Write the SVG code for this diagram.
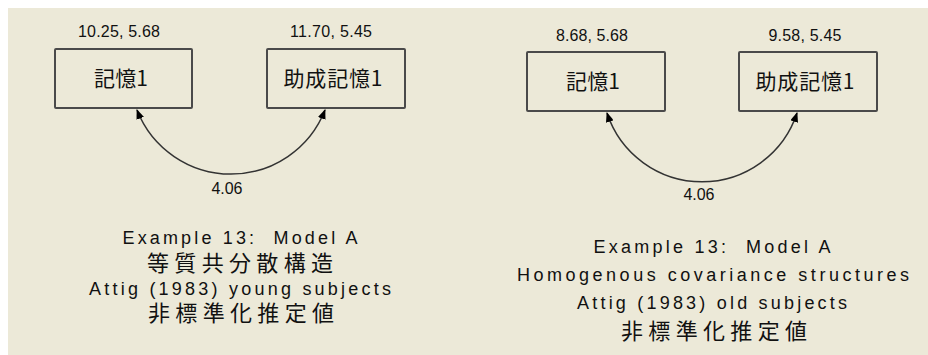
<svg xmlns="http://www.w3.org/2000/svg" width="928" height="355" viewBox="0 0 928 355">
<style>
.num{font-family:"Liberation Sans",Arial,sans-serif;font-size:16px;fill:#111;text-anchor:middle}
.lbl{font-family:"Noto Sans CJK JP","Noto Sans CJK SC",sans-serif;font-size:21px;fill:#111;text-anchor:middle}
.cap{font-family:"Liberation Sans",Arial,sans-serif;font-size:18px;fill:#111;text-anchor:middle}
.capj{font-family:"Noto Sans CJK JP","Noto Sans CJK SC",sans-serif;font-size:22px;fill:#111;text-anchor:middle}
.box{fill:#ECE9D8;stroke:#4a4a4a;stroke-width:2}
.cov{fill:none;stroke:#333;stroke-width:1.5}
</style>
<defs>
<marker id="ah" markerWidth="10" markerHeight="8" refX="9" refY="4" orient="auto-start-reverse" markerUnits="userSpaceOnUse">
<path d="M0,0 L10,4 L0,8 z" fill="#000"/>
</marker>
</defs>
<rect x="0" y="0" width="928" height="355" fill="#fff"/>
<rect x="8" y="8" width="920" height="347" fill="#ECE9D8"/>
<g id="connectors">
<path class="cov" d="M137,110 A101,101 0 0 0 325,110" marker-start="url(#ah)" marker-end="url(#ah)"/>
<path class="cov" d="M607,113 A100,100 0 0 0 797,113" marker-start="url(#ah)" marker-end="url(#ah)"/>
<text class="num" x="227" y="194" textLength="31">4.06</text>
<text class="num" x="699" y="200" textLength="31">4.06</text>
</g>
<g id="L-kioku1">
<rect class="box" x="55" y="49" width="137" height="59" rx="1"/>
<text class="lbl" x="121" y="86" textLength="54">記憶1</text>
<text class="num" x="119" y="37" textLength="82">10.25, 5.68</text>
</g>
<g id="L-josei-kioku1">
<rect class="box" x="267" y="49" width="138" height="59" rx="1"/>
<text class="lbl" x="333" y="86" textLength="99">助成記憶1</text>
<text class="num" x="331" y="37" textLength="82">11.70, 5.45</text>
</g>
<g id="R-kioku1">
<rect class="box" x="527" y="52" width="138" height="59" rx="1"/>
<text class="lbl" x="593" y="89" textLength="54">記憶1</text>
<text class="num" x="592" y="41" textLength="72">8.68, 5.68</text>
</g>
<g id="R-josei-kioku1">
<rect class="box" x="739" y="52" width="138" height="59" rx="1"/>
<text class="lbl" x="805" y="89" textLength="99">助成記憶1</text>
<text class="num" x="805" y="41" textLength="73">9.58, 5.45</text>
</g>
<g id="L-caption">
<text class="cap" x="240" y="244" textLength="235" xml:space="preserve">Example 13:  Model A</text>
<text class="capj" x="240" y="271" textLength="186">等質共分散構造</text>
<text class="cap" x="240" y="295" textLength="302">Attig (1983) young subjects</text>
<text class="capj" x="241" y="321" textLength="186">非標準化推定値</text>
</g>
<g id="R-caption">
<text class="cap" x="712" y="253" textLength="237" xml:space="preserve">Example 13:  Model A</text>
<text class="cap" x="713" y="281" textLength="392">Homogenous covariance structures</text>
<text class="cap" x="712" y="309" textLength="270">Attig (1983) old subjects</text>
<text class="capj" x="714" y="339" textLength="186">非標準化推定値</text>
</g>
</svg>
